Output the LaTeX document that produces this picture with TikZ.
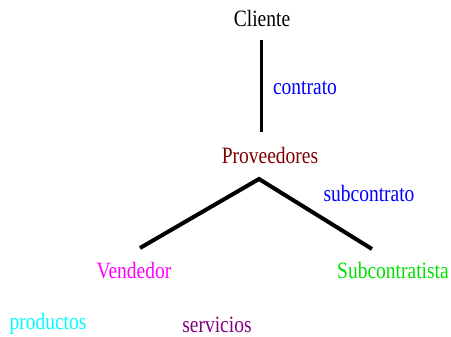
\documentclass[tikz,border=0pt]{standalone}
\usepackage{fontspec}
\setmainfont{Liberation Serif}
\definecolor{provred}{HTML}{800000}
\definecolor{servpurple}{HTML}{800080}
\definecolor{subgreen}{HTML}{00E000}
\definecolor{prodcyan}{HTML}{00FFFF}
\definecolor{vendmag}{HTML}{FF00FF}
\definecolor{lblblue}{HTML}{0000FF}
\newcommand{\tallt}[1]{\scalebox{1}[1.2]{#1}}
\begin{document}
\begin{tikzpicture}[x=1pt,y=-1pt,
  lbl/.style={inner sep=0pt,font=\fontsize{19.5}{21}\selectfont},
  link/.style={line width=3pt,black}]
\useasboundingbox (0,0) rectangle (451,337);
\node[lbl] (cliente) at (262,18) {\tallt{Cliente}};
\node[lbl,lblblue] (contrato) at (305,88) {\tallt{contrato}};
\node[lbl,provred] (prov) at (270,155) {\tallt{Proveedores}};
\node[lbl,lblblue] (subc) at (369,193) {\tallt{subcontrato}};
\node[lbl,vendmag] (vend) at (134,271) {\tallt{Vendedor}};
\node[lbl,subgreen] (subct) at (393,270) {\tallt{Subcontratista}};
\node[lbl,prodcyan] (prod) at (48,324) {\tallt{productos}};
\node[lbl,servpurple] (serv) at (217,325) {\tallt{servicios}};
\coordinate (c1) at (261,40);
\coordinate (c2) at (261,132);
\coordinate (apex) at (259,179);
\coordinate (left) at (140,248);
\coordinate (right) at (372,249);
\draw[line width=3pt] (c1) -- (c2);
\draw[line width=4pt] (left) -- (apex) -- (right);
\end{tikzpicture}
\end{document}
